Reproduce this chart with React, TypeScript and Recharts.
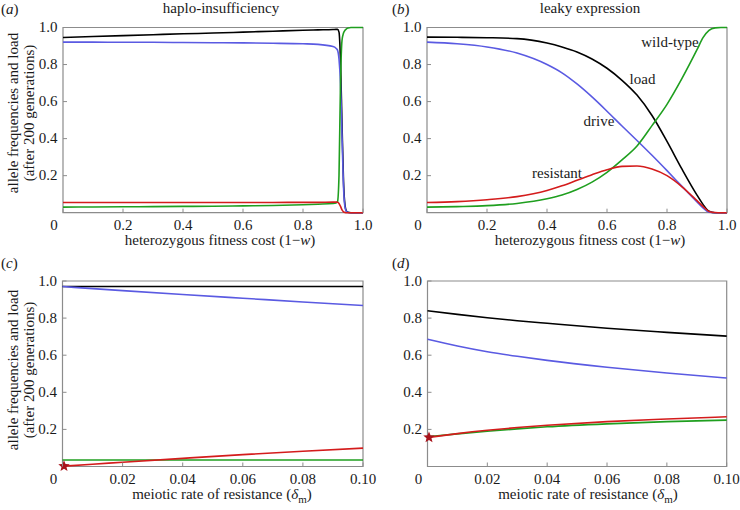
import React from "react";
import { ComposedChart, Line, Scatter, XAxis, YAxis, ReferenceArea } from "recharts";

const FONT = "'Liberation Serif', 'Times New Roman', Times, Tinos, 'Nimbus Roman', 'DejaVu Serif', 'Noto Serif', FreeSerif, serif";
const TEXT = "#1a1a1a";
const FRAME = "#8c8c8c";
const BLACK = "#000000";
const BLUE = "#5a5ae2";
const RED = "#d41c1c";
const GREEN = "#1f9f1f";

// (a) haplo-insufficiency
const A_X = [0, 0.1, 0.2, 0.3, 0.4, 0.5, 0.6, 0.7, 0.8, 0.85, 0.9, 0.91, 0.915, 0.92, 0.925, 0.93, 0.935, 0.94, 0.945, 0.95, 0.96, 0.97, 0.98, 1.0];
const A_LOAD = [0.946, 0.951, 0.956, 0.961, 0.966, 0.97, 0.975, 0.98, 0.985, 0.987, 0.989, 0.99, 0.99, 0.975, 0.82, 0.48, 0.17, 0.04, 0.008, 0.002, 0, 0, 0, 0];
const A_DRIVE = [0.921, 0.921, 0.92, 0.92, 0.919, 0.918, 0.917, 0.915, 0.912, 0.909, 0.897, 0.888, 0.878, 0.83, 0.7, 0.42, 0.14, 0.03, 0.006, 0.001, 0, 0, 0, 0];
const A_RESIST = [0.055, 0.055, 0.055, 0.055, 0.055, 0.055, 0.055, 0.055, 0.056, 0.056, 0.057, 0.057, 0.056, 0.05, 0.034, 0.015, 0.005, 0.001, 0, 0, 0, 0, 0, 0];
const A_WILD = [0.03, 0.031, 0.032, 0.033, 0.034, 0.035, 0.037, 0.039, 0.043, 0.046, 0.05, 0.053, 0.06, 0.2, 0.7, 0.93, 0.97, 0.985, 0.993, 0.997, 1, 1, 1, 1];

// (b) leaky expression
const B_X = [0, 0.1, 0.2, 0.3, 0.4, 0.45, 0.5, 0.55, 0.6, 0.65, 0.7, 0.75, 0.8, 0.85, 0.9, 0.92, 0.94, 0.96, 0.98, 1.0];
const B_LOAD = [0.948, 0.947, 0.945, 0.94, 0.916, 0.895, 0.868, 0.83, 0.78, 0.715, 0.635, 0.525, 0.385, 0.235, 0.095, 0.045, 0.008, 0, 0, 0];
const B_DRIVE = [0.921, 0.912, 0.895, 0.862, 0.8, 0.755, 0.695, 0.625, 0.548, 0.468, 0.39, 0.31, 0.227, 0.142, 0.058, 0.026, 0.002, 0, 0, 0];
const B_RESIST = [0.055, 0.06, 0.07, 0.087, 0.12, 0.145, 0.175, 0.205, 0.232, 0.25, 0.252, 0.236, 0.2, 0.14, 0.065, 0.034, 0.007, 0.001, 0, 0];
const B_WILD = [0.03, 0.033, 0.038, 0.05, 0.075, 0.095, 0.125, 0.165, 0.218, 0.285, 0.36, 0.47, 0.585, 0.725, 0.88, 0.945, 0.985, 0.998, 1, 1];

// (c) haplo-insufficiency vs meiotic resistance
const C_X = [0, 0.02, 0.04, 0.06, 0.08, 0.1];
const C_LOAD = [0.97, 0.97, 0.97, 0.97, 0.97, 0.97];
const C_DRIVE = [0.97, 0.948, 0.927, 0.907, 0.887, 0.868];
const C_WILD = [0.035, 0.035, 0.035, 0.035, 0.035, 0.035];
const C_RX = [0.0005, 0.01, 0.02, 0.04, 0.06, 0.08, 0.1];
const C_RESIST = [0.002, 0.012, 0.023, 0.044, 0.064, 0.082, 0.099];

// (d) leaky expression vs meiotic resistance
const D_X = [0, 0.01, 0.02, 0.03, 0.04, 0.06, 0.08, 0.1];
const D_LOAD = [0.84, 0.82, 0.802, 0.786, 0.772, 0.745, 0.723, 0.703];
const D_DRIVE = [0.686, 0.65, 0.619, 0.594, 0.572, 0.535, 0.504, 0.477];
const D_WILD = [0.16, 0.176, 0.19, 0.203, 0.214, 0.23, 0.242, 0.25];
const D_RX = [0.0005, 0.01, 0.02, 0.03, 0.04, 0.06, 0.08, 0.1];
const D_RESIST = [0.157, 0.177, 0.195, 0.21, 0.222, 0.242, 0.256, 0.268];

const Y_TICKS = [0.2, 0.4, 0.6, 0.8, 1.0];
const AB_X_TICKS = [0, 0.2, 0.4, 0.6, 0.8, 1.0];
const CD_X_TICKS = [0, 0.02, 0.04, 0.06, 0.08, 0.1];

const pts = (xs: number[], ys: number[]) => xs.map((x, i) => ({ x, y: ys[i] }));

const makeXTick = (digits: number) => (props: any) => {
  const { x, y, payload } = props;
  const v = payload.value;
  const label = v === 0 ? "0" : v.toFixed(digits);
  return (
    <g>
      <line x1={x} x2={x} y1={y} y2={y - 4} stroke={FRAME} />
      <text x={v === 0 ? x - 9 : x} y={y + 17} textAnchor="middle" fontSize={15} fontFamily={FONT} fill={TEXT}>
        {label}
      </text>
    </g>
  );
};

const YTick = (props: any) => {
  const { x, y, payload } = props;
  return (
    <g>
      <line x1={x} x2={x + 4} y1={y} y2={y} stroke={FRAME} />
      <text x={x - 5.5} y={y + 4.5} textAnchor="end" fontSize={15} fontFamily={FONT} fill={TEXT}>
        {payload.value.toFixed(1)}
      </text>
    </g>
  );
};

const StarShape = (props: any) => {
  const { cx, cy } = props;
  const p: string[] = [];
  for (let i = 0; i < 10; i++) {
    const r = i % 2 === 0 ? 6 : 2.6;
    const a = -Math.PI / 2 + (i * Math.PI) / 5;
    p.push(`${cx + r * Math.cos(a)},${cy + r * Math.sin(a)}`);
  }
  return <polygon points={p.join(" ")} fill="#a8141c" />;
};

type Series = { name: string; color: string; data: { x: number; y: number }[] };

function Panel(props: {
  left: number;
  top: number;
  width: number;
  height: number;
  margin: { top: number; right: number; bottom: number; left: number };
  xMax: number;
  xTicks: number[];
  digits: number;
  series: Series[];
  star?: { x: number; y: number }[];
}) {
  const { left, top, width, height, margin, xMax, xTicks, digits, series, star } = props;
  return (
    <div style={{ position: "absolute", left, top }}>
      <ComposedChart width={width} height={height} margin={margin}>
        <XAxis
          type="number"
          dataKey="x"
          domain={[0, xMax]}
          ticks={xTicks}
          interval={0}
          tick={makeXTick(digits)}
          tickSize={0}
          tickMargin={0}
          tickLine={false}
          axisLine={false}
          height={20}
        />
        <YAxis
          type="number"
          domain={[0, 1]}
          ticks={Y_TICKS}
          interval={0}
          tick={YTick}
          tickSize={0}
          tickMargin={0}
          tickLine={false}
          axisLine={false}
          width={40}
        />
        <ReferenceArea x1={0} x2={xMax} y1={0} y2={1} fill="none" stroke={FRAME} strokeWidth={1.2} ifOverflow="visible" />
        {series.map((s) => (
          <Line
            key={s.name}
            data={s.data}
            dataKey="y"
            type="monotone"
            stroke={s.color}
            strokeWidth={1.6}
            dot={false}
            isAnimationActive={false}
          />
        ))}
        {star && <Scatter data={star} dataKey="y" shape={StarShape} isAnimationActive={false} />}
      </ComposedChart>
    </div>
  );
}

export default function App() {
  const seriesA: Series[] = [
    { name: "load", color: BLACK, data: pts(A_X, A_LOAD) },
    { name: "drive", color: BLUE, data: pts(A_X, A_DRIVE) },
    { name: "wild", color: GREEN, data: pts(A_X, A_WILD) },
    { name: "resist", color: RED, data: pts(A_X, A_RESIST) },
  ];
  const seriesB: Series[] = [
    { name: "load", color: BLACK, data: pts(B_X, B_LOAD) },
    { name: "drive", color: BLUE, data: pts(B_X, B_DRIVE) },
    { name: "wild", color: GREEN, data: pts(B_X, B_WILD) },
    { name: "resist", color: RED, data: pts(B_X, B_RESIST) },
  ];
  const seriesC: Series[] = [
    { name: "load", color: BLACK, data: pts(C_X, C_LOAD) },
    { name: "drive", color: BLUE, data: pts(C_X, C_DRIVE) },
    { name: "wild", color: GREEN, data: pts(C_X, C_WILD) },
    { name: "resist", color: RED, data: pts(C_RX, C_RESIST) },
  ];
  const seriesD: Series[] = [
    { name: "load", color: BLACK, data: pts(D_X, D_LOAD) },
    { name: "drive", color: BLUE, data: pts(D_X, D_DRIVE) },
    { name: "wild", color: GREEN, data: pts(D_X, D_WILD) },
    { name: "resist", color: RED, data: pts(D_RX, D_RESIST) },
  ];

  const txt = { fontFamily: FONT, fill: TEXT };

  return (
    <div style={{ position: "absolute", left: 0, top: 0, width: 740, height: 510, background: "#fff", fontFamily: FONT }}>
      <Panel left={0} top={0} width={380} height={260} margin={{ top: 27.5, right: 17, bottom: 27.3, left: 23 }}
        xMax={1} xTicks={AB_X_TICKS} digits={1} series={seriesA} />
      <Panel left={370} top={0} width={370} height={260} margin={{ top: 27.5, right: 13, bottom: 27.3, left: 17 }}
        xMax={1} xTicks={AB_X_TICKS} digits={1} series={seriesB} />
      <Panel left={0} top={255} width={380} height={255} margin={{ top: 26, right: 17, bottom: 23.5, left: 22.5 }}
        xMax={0.1} xTicks={CD_X_TICKS} digits={2} series={seriesC} star={[{ x: C_RX[0], y: C_RESIST[0] }]} />
      <Panel left={370} top={255} width={370} height={255} margin={{ top: 26, right: 13.3, bottom: 23.5, left: 17.5 }}
        xMax={0.1} xTicks={CD_X_TICKS} digits={2} series={seriesD} star={[{ x: D_RX[0], y: D_RESIST[0] }]} />

      <svg width={740} height={510} style={{ position: "absolute", left: 0, top: 0, pointerEvents: "none" }}>
        <g fontSize={15}>
          <text x={1} y={13.5} {...txt}>(<tspan fontStyle="italic">a</tspan>)</text>
          <text x={221} y={13} textAnchor="middle" {...txt}>haplo-insufficiency</text>
          <text x={392} y={13.5} {...txt}>(<tspan fontStyle="italic">b</tspan>)</text>
          <text x={590} y={13} textAnchor="middle" {...txt}>leaky expression</text>
          <text x={1} y={268} {...txt}>(<tspan fontStyle="italic">c</tspan>)</text>
          <text x={392} y={268} {...txt}>(<tspan fontStyle="italic">d</tspan>)</text>

          <text x={220} y={245} textAnchor="middle" {...txt}>
            heterozygous fitness cost (1−<tspan fontStyle="italic">w</tspan>)
          </text>
          <text x={590} y={245} textAnchor="middle" {...txt}>
            heterozygous fitness cost (1−<tspan fontStyle="italic">w</tspan>)
          </text>
          <text x={222} y={499} textAnchor="middle" {...txt}>
            meiotic rate of resistance (<tspan fontStyle="italic">δ</tspan>
            <tspan fontSize={11} dy={4}>m</tspan>
            <tspan dy={-4}>)</tspan>
          </text>
          <text x={588} y={499} textAnchor="middle" {...txt}>
            meiotic rate of resistance (<tspan fontStyle="italic">δ</tspan>
            <tspan fontSize={11} dy={4}>m</tspan>
            <tspan dy={-4}>)</tspan>
          </text>

          <text transform="translate(18,113) rotate(-90)" textAnchor="middle" {...txt}>allele frequencies and load</text>
          <text transform="translate(34,113) rotate(-90)" textAnchor="middle" {...txt}>(after 200 generations)</text>
          <text transform="translate(18,370) rotate(-90)" textAnchor="middle" {...txt}>allele frequencies and load</text>
          <text transform="translate(34,370) rotate(-90)" textAnchor="middle" {...txt}>(after 200 generations)</text>

          <text x={670} y={47} textAnchor="middle" {...txt}>wild-type</text>
          <text x={642.5} y={84} textAnchor="middle" {...txt}>load</text>
          <text x={599} y={126} textAnchor="middle" {...txt}>drive</text>
          <text x={557} y={178} textAnchor="middle" {...txt}>resistant</text>
        </g>
      </svg>
    </div>
  );
}
